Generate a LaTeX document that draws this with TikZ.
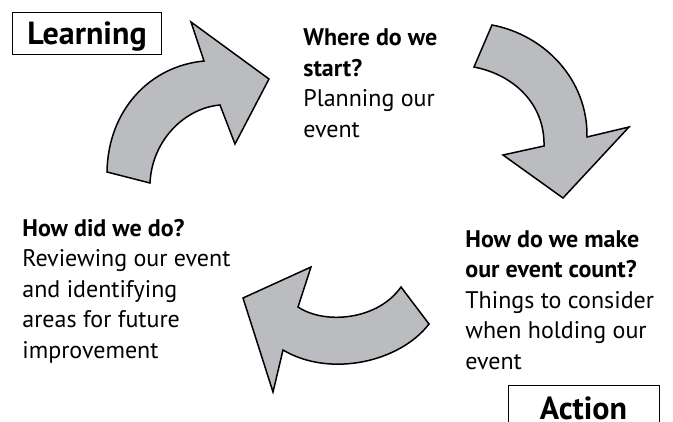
\documentclass[tikz,border=0pt]{standalone}
\usepackage{fontspec}
\setmainfont{PT Sans}
\usepackage{tikz}
\usetikzlibrary{positioning, calc}
\definecolor{arrowgray}{RGB}{187,188,191}

\begin{document}
\begin{tikzpicture}[x=1pt, y=-1pt, thick]
        % Define block styles
        \tikzstyle{stagetext} = [anchor=base west, align=left, inner sep=0pt, font=\fontsize{24}{30.5}\selectfont]
        \tikzstyle{phasebox} = [draw, line width=0.9pt, inner sep=0pt, font=\fontsize{32}{34}\selectfont\bfseries]
        \tikzstyle{cyclearrow} = [draw=black, line width=1.5pt, fill=arrowgray, line join=miter]

        \clip (0,0) rectangle (673,421);

        % Place nodes
        \node [phasebox, minimum width=149pt, text height=32.5pt, text depth=9.5pt] (learning) at (87,33.3) {Learning};
        \node [phasebox, anchor=north, minimum width=151pt, text height=34pt, text depth=12pt] (action) at (583.5,385) {Action};

        % (base = last line)
        \node [stagetext] (start) at (303,137) {\textbf{Where do we}\\\textbf{start?}\\Planning our\\event};
        \node [stagetext] (count) at (465,369) {\textbf{How do we make}\\\textbf{our event count?}\\Things to consider\\when holding our\\event};
        \node [stagetext] (review) at (22,358) {\textbf{How did we do?}\\Reviewing our event\\and identifying\\areas for future\\improvement};

        % Draw the cycle arrows
        \draw [cyclearrow] (107,172) .. controls (108,110) and (150,66) .. (204,61)
            -- (191,22) -- (269,79) -- (235,144) -- (220,105)
            .. controls (185,108) and (152,140) .. (150,183) -- cycle;
        \draw [cyclearrow] (492,25) .. controls (545,35) and (588,80) .. (587,137)
            -- (629,127) -- (563,198) -- (503,155) -- (544,146)
            .. controls (545,105) and (515,75) .. (474,67) -- cycle;
        \draw [cyclearrow] (401,287) -- (429,324) .. controls (400,362) and (330,378) .. (283,350)
            -- (273,392) -- (243,298) -- (311,267) -- (298,307)
            .. controls (325,325) and (378,320) .. (401,287) -- cycle;

    \end{tikzpicture}
\end{document}
